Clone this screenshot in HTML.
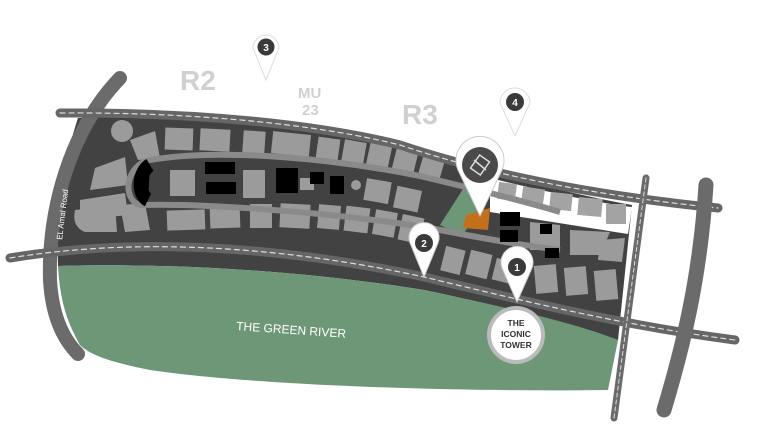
<!DOCTYPE html>
<html><head><style>
html,body{margin:0;padding:0;background:#fff;width:768px;height:446px;overflow:hidden}
svg{display:block}
text{font-family:"Liberation Sans",sans-serif}
</style></head><body>
<svg width="768" height="446" viewBox="0 0 768 446" xmlns="http://www.w3.org/2000/svg">
<path d="M78,118 C200,112 320,125 400,145 C460,165 560,192 632,205 L618,340 C580,328 520,310 424,290 C330,275 200,262 58,266 C56,210 64,160 78,118 Z" fill="#424242"/>
<path d="M58,266 C200,262 330,275 424,290 C520,310 580,325 618,340 L608,390 C450,392 250,385 150,370 C110,362 90,355 80,345 C66,320 60,300 58,266 Z" fill="#6e9778"/>
<path d="M490,178 C560,195 600,203 632,207 L628,234 C590,228 540,220 490,212 Z" fill="#fff"/>
<g fill="#a3a3a3">
<rect x="498" y="183" width="18" height="17" transform="rotate(8 507 191)"/>
<rect x="522" y="188" width="22" height="17" transform="rotate(8 533 196)"/>
<rect x="550" y="193" width="22" height="17" transform="rotate(6 561 201)"/>
<rect x="578" y="198" width="24" height="18" transform="rotate(5 590 207)"/>
<rect x="606" y="204" width="20" height="20"/>
</g>
<path d="M440,225 L470,178 L492,184 L478,212 L462,236 Z" fill="#6e9778"/>
<g fill="#9b9b9b">
<circle cx="122" cy="131" r="11"/>
<path d="M130,140 L155,131 L160,158 L138,160 Z"/>
<rect x="165" y="128" width="28" height="22" transform="rotate(2 179 139)"/>
<rect x="200" y="129" width="30" height="22" transform="rotate(3 215 140)"/>
<rect x="243" y="131" width="22" height="22" transform="rotate(4 254 142)"/>
<rect x="272" y="133" width="38" height="22" transform="rotate(6 291 144)"/>
<rect x="317" y="138" width="22" height="22" transform="rotate(8 328 149)"/>
<rect x="343" y="141" width="22" height="22" transform="rotate(10 354 152)"/>
<rect x="368" y="145" width="22" height="22" transform="rotate(12 379 156)"/>
<rect x="394" y="150" width="22" height="22" transform="rotate(14 405 161)"/>
<rect x="420" y="158" width="22" height="22" transform="rotate(16 431 169)"/>
<path d="M95,168 L125,157 L128,185 L90,190 Z"/>
<path d="M80,200 L125,193 L128,215 L80,220 Z"/>
<path d="M75,210 L115,205 L117,232 L85,232 C75,228 73,220 75,210 Z"/>
<path d="M120,205 L145,203 L150,230 L125,232 Z"/>
<rect x="167" y="210" width="38" height="20" transform="rotate(-2 186 220)"/>
<rect x="210" y="206" width="30" height="22" transform="rotate(-2 225 217)"/>
<rect x="250" y="204" width="22" height="24"/>
<rect x="280" y="204" width="30" height="24" transform="rotate(3 295 216)"/>
<rect x="318" y="205" width="22" height="24" transform="rotate(5 329 217)"/>
<rect x="345" y="207" width="24" height="25" transform="rotate(7 357 219)"/>
<rect x="374" y="211" width="22" height="25" transform="rotate(10 385 223)"/>
<rect x="400" y="216" width="22" height="26" transform="rotate(12 411 229)"/>
<rect x="443" y="248" width="20" height="25" transform="rotate(14 453 260)"/>
<rect x="468" y="252" width="22" height="25" transform="rotate(14 479 264)"/>
<rect x="494" y="260" width="20" height="22" transform="rotate(14 504 271)"/>
<rect x="535" y="265" width="22" height="28" transform="rotate(-5 546 279)"/>
<rect x="565" y="267" width="22" height="28" transform="rotate(-5 576 281)"/>
<rect x="595" y="270" width="22" height="30" transform="rotate(-5 606 285)"/>
<path d="M570,230 L610,232 L600,255 L570,255 Z"/>
<path d="M600,240 L625,238 L622,262 L598,260 Z"/>
<path d="M530,222 L560,225 L560,250 L530,250 Z"/>
</g>
<path d="M150,160 C220,148 330,158 420,176 C470,188 520,200 560,212 M150,160 C125,165 122,200 140,205 C200,203 330,212 430,228 C480,238 520,245 560,250" fill="none" stroke="#8a8a8a" stroke-width="6"/>
<path d="M150,165 C138,172 138,195 148,200" fill="#000" stroke="#000" stroke-width="14"/>
<g fill="#9b9b9b">
<rect x="170" y="170" width="25" height="26"/>
<rect x="243" y="170" width="22" height="28"/>
<rect x="300" y="178" width="14" height="12"/>
<rect x="365" y="180" width="25" height="22" transform="rotate(10 377 191)"/>
<rect x="395" y="188" width="25" height="22" transform="rotate(12 407 199)"/>
</g>
<g fill="#000">
<rect x="205" y="162" width="30" height="12"/>
<rect x="206" y="182" width="30" height="12"/>
<rect x="276" y="168" width="22" height="25"/>
<rect x="310" y="172" width="14" height="12"/>
<rect x="330" y="176" width="14" height="18"/>
<rect x="500" y="212" width="20" height="14"/>
<rect x="500" y="230" width="18" height="12"/>
<rect x="540" y="224" width="12" height="10"/>
<rect x="545" y="248" width="14" height="10"/>
</g>
<circle cx="356" cy="185" r="5" fill="#9b9b9b"/>
<path d="M466,215 L490,208 L488,230 L463,228 Z" fill="#c2701b"/>
<g fill="none" stroke-linecap="round">
<path d="M120,78 C70,130 48,210 50,280 C52,315 62,338 78,354" stroke="#6b6b6b" stroke-width="14"/>
<path d="M60,113 C200,112 320,125 400,145 C460,165 560,192 718,208" stroke="#666" stroke-width="9"/>
<path d="M60,113 C200,112 320,125 400,145 C460,165 560,192 718,208" stroke="#ddd" stroke-width="1.2" stroke-dasharray="5 4"/>
<path d="M10,258 C150,235 300,250 424,277 C520,300 620,325 735,340" stroke="#666" stroke-width="9"/>
<path d="M10,258 C150,235 300,250 424,277 C520,300 620,325 735,340" stroke="#ddd" stroke-width="1.2" stroke-dasharray="5 4"/>
<path d="M646,178 L614,418" stroke="#6b6b6b" stroke-width="7"/>
<path d="M646,178 L614,418" stroke="#ddd" stroke-width="1" stroke-dasharray="4 3"/>
<path d="M706,185 C700,280 682,350 664,410" stroke="#6b6b6b" stroke-width="15"/>
</g>
<text transform="translate(62,240) rotate(-83)" font-size="8" fill="#fff">EL Amal Road</text>
<text transform="translate(682,302) rotate(-82)" font-size="8" fill="#fff">Regional Ring Rd</text>
<g fill="#d0d0d0" font-weight="bold">
<text x="180" y="90" font-size="28">R2</text>
<text x="402" y="124" font-size="28">R3</text>
<text x="298" y="98" font-size="15">MU</text>
<text x="302" y="115" font-size="15">23</text>
</g>
<text x="236" y="330" font-size="12" fill="#fff" transform="rotate(4 236 330)">THE GREEN RIVER</text>
<g>
<path d="M253,48 A13,13 0 1 1 279,48 L266,80 Z" fill="#fff" stroke="#ddd"/>
<circle cx="266" cy="47" r="8.5" fill="#3a3a3a"/><text x="266" y="51" font-size="10" font-weight="bold" fill="#fff" text-anchor="middle">3</text>
<path d="M500,103 A15,15 0 1 1 530,103 L515,136 Z" fill="#fff" stroke="#ddd"/>
<circle cx="515" cy="102" r="9" fill="#3a3a3a"/><text x="515" y="106" font-size="10" font-weight="bold" fill="#fff" text-anchor="middle">4</text>
<path d="M410,243 A15,15 0 1 1 438,243 L424,277 Z" fill="#fff" stroke="#ccc"/>
<circle cx="424" cy="243" r="9" fill="#3a3a3a"/><text x="424" y="247" font-size="10" font-weight="bold" fill="#fff" text-anchor="middle">2</text>
<path d="M502,268 A16,16 0 1 1 532,268 L517,302 Z" fill="#fff" stroke="#ccc"/>
<circle cx="517" cy="267" r="9" fill="#3a3a3a"/><text x="517" y="271" font-size="10" font-weight="bold" fill="#fff" text-anchor="middle">1</text>
<path d="M458,170 A24,24 0 1 1 502,170 L480,216 Z" fill="#fff" stroke="#ccc"/>
<circle cx="480" cy="165" r="18" fill="#4a4a4a"/>
<path d="M474,157 L486,157 L486,173 L474,173 Z" fill="none" stroke="#ddd" stroke-width="1.5" transform="rotate(35 480 165)"/>
<line x1="474" y1="160" x2="486" y2="170" stroke="#ddd" stroke-width="1.5"/>
<circle cx="516" cy="335" r="29" fill="#bbb"/>
<circle cx="516" cy="335" r="25" fill="#fff"/>
<g font-size="8.5" font-weight="bold" fill="#333" text-anchor="middle">
<text x="516" y="326">THE</text><text x="516" y="337">ICONIC</text><text x="516" y="348">TOWER</text>
</g>
</g>
</svg>
</body></html>
